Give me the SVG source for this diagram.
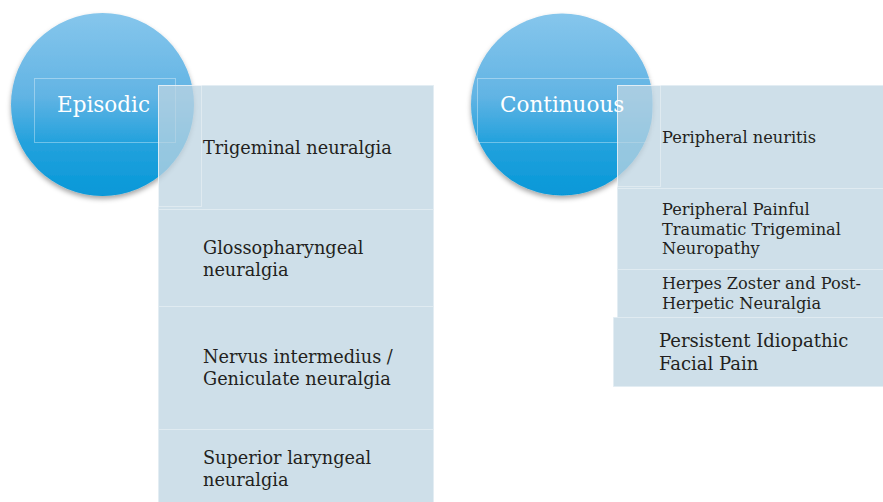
<svg xmlns="http://www.w3.org/2000/svg" width="883" height="502" viewBox="0 0 883 502">
<defs>
  <linearGradient id="cg" x1="0" y1="0" x2="0" y2="1">
    <stop offset="0" stop-color="#86C6EC"/>
    <stop offset="0.45" stop-color="#62B4E4"/>
    <stop offset="0.7" stop-color="#25A2DD"/>
    <stop offset="1" stop-color="#0698D8"/>
  </linearGradient>
  <filter id="sh" x="-20%" y="-20%" width="140%" height="140%">
    <feDropShadow dx="0" dy="3" stdDeviation="2.5" flood-color="#000" flood-opacity="0.35"/>
  </filter>
  <style>
    .circ { fill: url(#cg); filter: url(#sh); }
    .box { fill: #BED4E2; fill-opacity: 0.75; stroke: #E2ECF3; stroke-opacity: 0.8; stroke-width: 1; }
    .faint { fill: none; stroke: #FFFFFF; stroke-opacity: 0.35; stroke-width: 1; }
    .title { font-family: "DejaVu Serif", "Liberation Serif", serif; font-size: 21.5px; fill: #FFFFFF; }
    .lt { font-family: "DejaVu Serif", "Liberation Serif", serif; font-size: 17.7px; fill: #231F20; }
    .rt { font-family: "DejaVu Serif", "Liberation Serif", serif; font-size: 16.2px; fill: #231F20; }
    .rt2 { font-family: "DejaVu Serif", "Liberation Serif", serif; font-size: 18px; fill: #231F20; }
  </style>
</defs>

<g id="episodic">
  <circle class="circ" cx="102.5" cy="104.5" r="91.5"/>
  <rect class="faint" x="34.5" y="78.5" width="141" height="64"/>
</g>

<g id="trigeminal">
  <rect class="box" x="158.5" y="85.5" width="275" height="124"/>
  <rect class="faint" x="158.5" y="85.5" width="43" height="121"/>
  <text class="lt" x="203" y="154">Trigeminal neuralgia</text>
</g>
<g id="glossopharyngeal">
  <rect class="box" x="158.5" y="209.5" width="275" height="97"/>
  <text class="lt" x="203" y="254">Glossopharyngeal</text>
  <text class="lt" x="203" y="276">neuralgia</text>
</g>
<g id="nervus">
  <rect class="box" x="158.5" y="306.5" width="275" height="123"/>
  <text class="lt" x="203" y="363">Nervus intermedius /</text>
  <text class="lt" x="203" y="385">Geniculate neuralgia</text>
</g>
<g id="superior">
  <rect class="box" x="158.5" y="429.5" width="275" height="75"/>
  <text class="lt" x="203" y="464">Superior laryngeal</text>
  <text class="lt" x="203" y="486">neuralgia</text>
</g>

<g id="episodic-label">
  <text class="title" x="57" y="112">Episodic</text>
</g>

<g id="continuous">
  <circle class="circ" cx="562" cy="104.5" r="91"/>
  <rect class="faint" x="477.5" y="78.5" width="175" height="64"/>
</g>

<g id="peripheral-neuritis">
  <rect class="box" x="617.5" y="85.5" width="267" height="103"/>
  <rect class="faint" x="617.5" y="85.5" width="43" height="101"/>
  <text class="rt" x="662" y="143">Peripheral neuritis</text>
</g>
<g id="pptn">
  <rect class="box" x="617.5" y="188.5" width="267" height="81"/>
  <text class="rt" x="662" y="215">Peripheral Painful</text>
  <text class="rt" x="662" y="235">Traumatic Trigeminal</text>
  <text class="rt" x="662" y="254">Neuropathy</text>
</g>
<g id="herpes">
  <rect class="box" x="617.5" y="269.5" width="267" height="48"/>
  <text class="rt" x="662" y="289">Herpes Zoster and Post-</text>
  <text class="rt" x="662" y="309">Herpetic Neuralgia</text>
</g>
<g id="pifp">
  <rect class="box" x="613.5" y="317.5" width="271" height="69"/>
  <text class="rt2" x="659" y="347">Persistent Idiopathic</text>
  <text class="rt2" x="659" y="370">Facial Pain</text>
</g>

<g id="continuous-label">
  <text class="title" x="500" y="112">Continuous</text>
</g>

<g id="connectors"/>
</svg>
